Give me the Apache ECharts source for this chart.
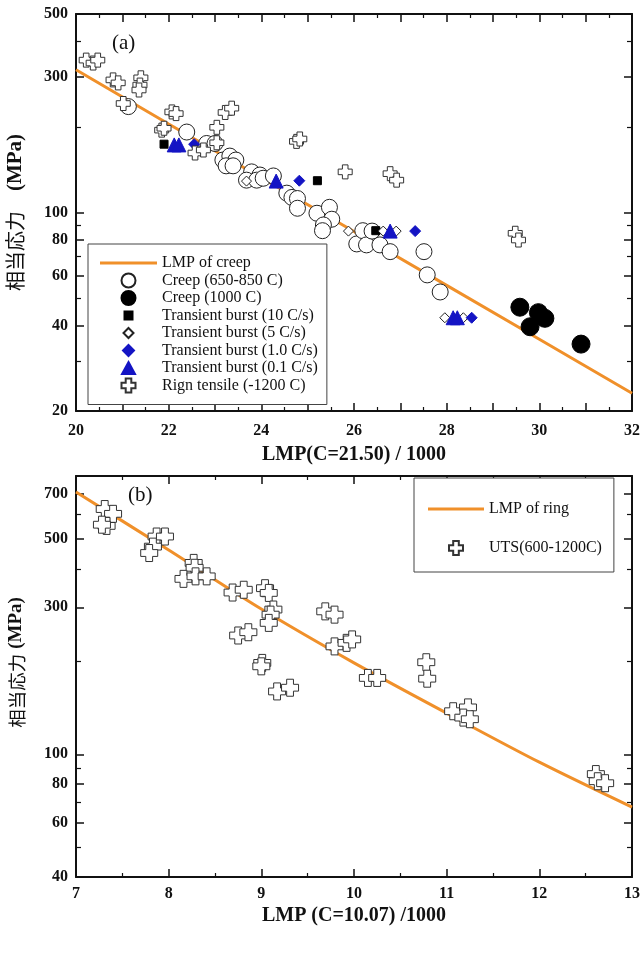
<!DOCTYPE html>
<html>
<head>
<meta charset="utf-8">
<title>LMP</title>
<script src="https://cdn.jsdelivr.net/npm/echarts@6/dist/echarts.min.js"></script>
<style>
html,body{margin:0;padding:0;background:#fff;}
#main{width:642px;height:956px;}
</style>
</head>
<body>
<div id="main"></div>
<script>
// ---- (a) LMP(C=21.50) ----
var lmpCreepX = [20, 22, 24, 26, 28, 30, 32];
var lmpCreepY = [318, 205, 132.6, 85.7, 55.4, 35.8, 23.1];

var creepX = [21.13, 22.39, 22.82, 23.00, 23.17, 23.32, 23.45, 23.24, 23.39, 23.79, 23.97, 23.68, 23.90, 24.04, 24.26,
	24.55, 24.66, 24.78, 24.78, 25.20, 25.47, 25.52, 25.34, 25.32, 26.06, 26.19, 26.27, 26.56, 26.39, 26.78, 27.51, 27.58, 27.86];
var creepY = [236, 192, 175, 175, 153, 158, 153, 146, 146, 139, 135.5, 130, 130, 132, 134.5,
	117, 113, 112, 103.5, 99.4, 104.3, 94.7, 90.4, 86.3, 77.5, 86.3, 76.9, 76.9, 86, 72.8, 72.8, 60.3, 52.5];

var creep1000X = [29.58, 29.98, 30.12, 29.80, 30.90];
var creep1000Y = [46.4, 44.4, 42.4, 39.6, 34.4];

var burst10X = [21.90, 25.21, 26.47];
var burst10Y = [174, 129.4, 86.3];

var burst5X = [23.68, 25.88, 26.63, 26.91, 27.96, 28.36];
var burst5Y = [129, 86, 86, 86, 42.6, 42.6];

var burst1X = [22.55, 24.82, 27.32, 28.54];
var burst1Y = [174, 129.4, 86, 42.6];

var burst01X = [22.12, 22.22, 24.32, 26.78, 28.14, 28.23];
var burst01Y = [173, 173, 129, 86, 42.6, 42.6];

var ringAX = [20.22, 20.37, 20.47, 20.80, 20.91, 21.40, 21.38, 21.36, 21.02, 22.07, 22.16, 21.85, 21.90, 23.04, 23.22, 23.36,
	22.57, 22.75, 23.04, 24.76, 24.83, 25.81, 26.78, 26.92, 29.48, 29.55];
var ringAY = [344, 336, 344, 293, 286, 298, 281, 270, 242, 226, 223, 195, 198, 199.5, 225, 233,
	162, 166, 176, 178, 181.5, 139, 137, 130, 84.5, 80];

// ---- (b) LMP(C=10.07) ----
var lmpRingX = [7, 8, 9, 10, 11, 12, 13];
var lmpRingY = [710, 460, 296, 198, 136, 94.3, 67.4];

var utsX = [7.31, 7.40, 7.33, 7.28, 7.87, 7.96, 7.83, 7.79, 8.27, 8.28, 8.16, 8.29, 8.41, 8.69, 8.81, 9.04, 9.08, 9.13, 9.10,
	9.08, 8.75, 8.86, 9.01, 9.00, 9.17, 9.31, 9.69, 9.79, 9.79, 9.92, 9.98, 10.15, 10.25, 10.78, 10.79, 11.07, 11.23, 11.18,
	11.25, 12.61, 12.63, 12.71];
var utsY = [625, 603, 551, 556, 509, 509, 472, 450, 418, 403, 371, 378, 378, 335, 342, 346, 334, 295, 284,
	267, 243, 249, 198, 193, 160, 164.5, 291, 284, 224, 230, 236, 177, 177, 199, 176, 138, 142, 131.6,
	130, 86.3, 81.8, 80.6];

// axis ticks / labels
var xLabelsA = [20, 22, 24, 26, 28, 30, 32];
var yLabelsA = [20, 40, 60, 80, 100, 300, 500];
var yMinorA = [30, 50, 70, 90, 200, 400];
var xLabelsB = [7, 8, 9, 10, 11, 12, 13];
var yLabelsB = [40, 60, 80, 100, 300, 500, 700];
var yMinorB = [50, 70, 90, 200, 400, 600];

var SERIF = '"Liberation Serif", "Times New Roman", serif';
var CJK = '"Noto Sans CJK JP", "Noto Sans CJK SC", sans-serif';
var INK = '#111';
var ORANGE = '#f0902a';
var BLUE = '#1414c4';
var crossPath = 'path://M3,0 H7 V3 H10 V7 H7 V10 H3 V7 H0 V3 H3 Z';
var lineIcon = 'path://M0,0 H57 V3 H0 Z';

function zip(xs, ys) {
	return xs.map(function (x, i) { return [x, ys[i]]; });
}

function xAxes(grid, min, max, labels, name, nameGap, margin) {
	var base = {
		gridIndex: grid, type: 'value', min: min, max: max, interval: 1,
		axisLine: { show: true, onZero: false, lineStyle: { color: INK, width: 2 } },
		axisTick: { inside: true, length: 8, lineStyle: { color: INK, width: 1.5 } },
		minorTick: { show: true, splitNumber: 2, length: 4, lineStyle: { color: INK, width: 1.2 } },
		splitLine: { show: false }
	};
	var bottom = Object.assign({}, base, {
		position: 'bottom',
		name: name, nameLocation: 'middle', nameGap: nameGap,
		nameTextStyle: { fontFamily: SERIF, fontWeight: 'bold', fontSize: 20, color: INK },
		axisLabel: { customValues: labels, margin: margin, fontFamily: SERIF, fontWeight: 'bold', fontSize: 16, color: INK }
	});
	var top = Object.assign({}, base, { position: 'top', axisLabel: { show: false } });
	return [bottom, top];
}

function yAxes(grid, min, max, labels, minor, nameStyle, nameGap) {
	var base = {
		gridIndex: grid, type: 'log', logBase: 10, min: min, max: max,
		splitLine: { show: false }, minorTick: { show: false }
	};
	var line = { show: true, onZero: false, lineStyle: { color: INK, width: 2 } };
	var majorTick = { inside: true, length: 8, customValues: labels, lineStyle: { color: INK, width: 1.5 } };
	var minorTickStyle = { inside: true, length: 5, customValues: minor, lineStyle: { color: INK, width: 1.2 } };
	return [
		Object.assign({}, base, {
			position: 'left', axisLine: line, axisTick: majorTick,
			name: '{c|相当応力}{e|(MPa)}', nameLocation: 'middle', nameRotate: 90, nameGap: nameGap,
			nameTextStyle: nameStyle,
			axisLabel: {
				customValues: labels, margin: 8, fontFamily: SERIF, fontWeight: 'bold', fontSize: 16, color: INK,
				formatter: function (v) { return String(Math.round(v)); }
			}
		}),
		Object.assign({}, base, { position: 'right', axisLine: line, axisTick: majorTick, axisLabel: { show: false } }),
		Object.assign({}, base, { position: 'left', axisLine: { show: false }, axisTick: minorTickStyle, axisLabel: { show: false } }),
		Object.assign({}, base, { position: 'right', axisLine: { show: false }, axisTick: minorTickStyle, axisLabel: { show: false } })
	];
}

function scatter(name, xs, ys, xi, yi, symbol, size, fill, stroke) {
	return {
		name: name, type: 'scatter', xAxisIndex: xi, yAxisIndex: yi,
		symbol: symbol, symbolSize: size, data: zip(xs, ys),
		itemStyle: { color: fill, borderColor: stroke || fill, borderWidth: 1, opacity: 1 }
	};
}

var chart = echarts.init(document.getElementById('main'), null, { renderer: 'canvas' });

var option = {
	animation: false,
	backgroundColor: '#fff',
	grid: [
		{ left: 76, top: 14, width: 556, height: 397, outerBoundsMode: 'none' },
		{ left: 76, top: 476, width: 556, height: 401, outerBoundsMode: 'none' }
	],
	xAxis: xAxes(0, 20, 32, xLabelsA, 'LMP(C=21.50) / 1000', 34, 12)
		.concat(xAxes(1, 7, 13, xLabelsB, 'LMP (C=10.07) /1000', 29, 9)),
	yAxis: yAxes(0, 20, 500, yLabelsA, yMinorA, {
		rich: {
			c: { fontFamily: CJK, fontSize: 20, color: INK },
			e: { fontFamily: SERIF, fontSize: 21, fontWeight: 'bold', color: INK, padding: [0, 0, 0, 20] }
		}
	}, 50).concat(yAxes(1, 40, 800, yLabelsB, yMinorB, {
		padding: [0, 0, 0, 28],
		rich: {
			c: { fontFamily: CJK, fontSize: 18.5, color: INK },
			e: { fontFamily: SERIF, fontSize: 19, fontWeight: 'bold', color: INK, padding: [0, 0, 0, 5] }
		}
	}, 50)),
	legend: [
		{
			orient: 'vertical', left: 88, top: 244, selectedMode: false,
			backgroundColor: '#fff', borderColor: '#444', borderWidth: 1, borderRadius: 0,
			padding: [11, 9, 11, 12], itemGap: 1.5, itemWidth: 57, itemHeight: 14,
			textStyle: { fontFamily: SERIF, fontSize: 16, lineHeight: 16, color: INK },
			data: [
				{ name: 'LMP of creep', icon: lineIcon },
				{ name: 'Creep (650-850 C)' },
				{ name: 'Creep (1000 C)' },
				{ name: 'Transient burst (10 C/s)', icon: 'path://M0,0 M14,14 M3,3 H11 V11 H3 Z' },
				{ name: 'Transient burst (5 C/s)', icon: 'path://M0,0 M14,14 M7,2 L12,7 L7,12 L2,7 Z' },
				{ name: 'Transient burst (1.0 C/s)', icon: 'path://M0,0 M14,14 M7,1.5 L12.5,7 L7,12.5 L1.5,7 Z' },
				{ name: 'Transient burst (0.1 C/s)', icon: 'path://M0,0 M14,14 M7,1 L13.5,13 L0.5,13 Z' },
				{ name: 'Rign tensile (-1200 C)' }
			]
		},
		{
			orient: 'vertical', left: 414, top: 478, selectedMode: false,
			backgroundColor: '#fff', borderColor: '#444', borderWidth: 1, borderRadius: 0,
			padding: [23, 12, 16, 14], itemGap: 23, itemWidth: 56, itemHeight: 14,
			textStyle: { fontFamily: SERIF, fontSize: 16, lineHeight: 16, color: INK },
			data: [{ name: 'LMP of ring', icon: 'path://M0,0 H56 V3 H0 Z' }, { name: 'UTS(600-1200C)' }]
		}
	],
	graphic: [
		{ type: 'text', left: 112, top: 33, style: { text: '(a)', fontFamily: SERIF, fontSize: 21, fill: INK } },
		{ type: 'text', left: 128, top: 485, style: { text: '(b)', fontFamily: SERIF, fontSize: 21, fill: INK } }
	],
	series: [
		{
			name: 'LMP of creep', type: 'line', xAxisIndex: 0, yAxisIndex: 0, z: 1,
			symbol: 'none', data: zip(lmpCreepX, lmpCreepY),
			lineStyle: { color: ORANGE, width: 3 }, itemStyle: { color: ORANGE }
		},
		scatter('Creep (650-850 C)', creepX, creepY, 0, 0, 'circle', 16, '#fff', '#222'),
		scatter('Creep (1000 C)', creep1000X, creep1000Y, 0, 0, 'circle', 18, '#000', '#000'),
		scatter('Transient burst (10 C/s)', burst10X, burst10Y, 0, 0, 'rect', 8, '#000', '#000'),
		scatter('Transient burst (5 C/s)', burst5X, burst5Y, 0, 0, 'diamond', 10, '#fff', '#222'),
		scatter('Transient burst (1.0 C/s)', burst1X, burst1Y, 0, 0, 'diamond', 11, BLUE, BLUE),
		scatter('Transient burst (0.1 C/s)', burst01X, burst01Y, 0, 0, 'triangle', 14, BLUE, BLUE),
		scatter('Rign tensile (-1200 C)', ringAX, ringAY, 0, 0, crossPath, 14, '#fff', '#333'),
		{
			name: 'LMP of ring', type: 'line', xAxisIndex: 2, yAxisIndex: 4, z: 1,
			symbol: 'none', smooth: 0.3, data: zip(lmpRingX, lmpRingY),
			lineStyle: { color: ORANGE, width: 3 }, itemStyle: { color: ORANGE }
		},
		scatter('UTS(600-1200C)', utsX, utsY, 2, 4, crossPath, 17, '#fff', '#333')
	]
};

chart.setOption(option);
</script>
</body>
</html>
